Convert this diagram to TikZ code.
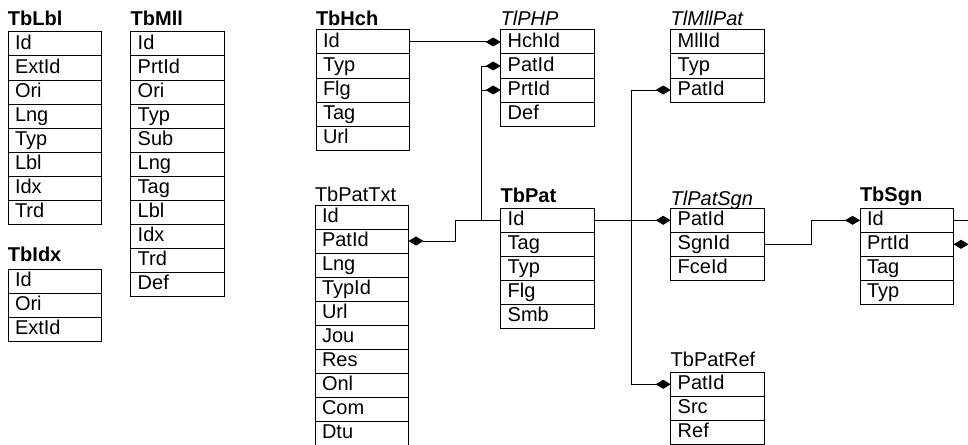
\documentclass[tikz,border=0pt]{standalone}
\usepackage{fontspec}
\setmainfont{Liberation Sans}
\usetikzlibrary{arrows.meta}
\newcommand{\dbtab}[7]{%
  \node[ttl,#5] (#1-t) at (#2,#4) {#6};
  \foreach \r [count=\i from 0] in {#7} {\node[rowbox] (#1-\i) at (#2,#3+24*\i) {\r};}
}
\tikzset{
  rowbox/.style={draw=black, line width=1pt, anchor=north west, inner xsep=7pt, inner ysep=0pt,
    outer sep=0pt, text width=79.5pt, align=left, text height=17.5pt, text depth=6.5pt,
    font=\fontsize{20}{24}\selectfont},
  ttl/.style={anchor=base west, inner sep=0pt, outer sep=0pt},
  tbold/.style={font=\fontsize{20}{24}\selectfont\bfseries},
  tital/.style={font=\fontsize{20}{24}\selectfont\itshape},
  tplain/.style={font=\fontsize{20}{24}\selectfont},
  rel/.style={draw=black, line width=1pt, -{Diamond[length=15pt,width=9pt]}},
  lnk/.style={draw=black, line width=1pt}
}
\begin{document}
\begin{tikzpicture}[x=1pt,y=-1pt]
\useasboundingbox (0,0) rectangle (968,444);
\clip (0,0) rectangle (968,444);
\fill[white] (0,0) rectangle (968,444);
% tables
\dbtab{lbl}{8}{32}{25.3}{tbold}{TbLbl}{Id,ExtId,Ori,Lng,Typ,Lbl,Idx,Trd}
\dbtab{mll}{130.7}{32}{25.3}{tbold}{TbMll}{Id,PrtId,Ori,Typ,Sub,Lng,Tag,Lbl,Idx,Trd,Def}
\dbtab{idx}{8}{269.3}{261.7}{tbold}{TbIdx}{Id,Ori,ExtId}
\dbtab{hch}{316}{30}{25.7}{tbold}{TbHch}{Id,Typ,Flg,Tag,Url}
\dbtab{php}{500.7}{30}{25.5}{tital}{TlPHP}{HchId,PatId,PrtId,Def}
\dbtab{tmp}{670.7}{30}{25.5}{tital}{TlMllPat}{MllId,Typ,PatId}
\dbtab{ptx}{315}{205}{201.7}{tplain}{TbPatTxt}{Id,PatId,Lng,TypId,Url,Jou,Res,Onl,Com,Dtu}
\dbtab{pat}{500.7}{208.3}{202.7}{tbold}{TbPat}{Id,Tag,Typ,Flg,Smb}
\dbtab{tps}{670.7}{208.3}{205}{tital}{TlPatSgn}{PatId,SgnId,FceId}
\dbtab{sgn}{860}{208.3}{201.7}{tbold}{TbSgn}{Id,PrtId,Tag,Typ}
\dbtab{ref}{670.7}{372.3}{366.7}{tplain}{TbPatRef}{PatId,Src,Ref}
% routing columns
\coordinate (c1) at (455,0);
\coordinate (c2) at (481.7,0);
\coordinate (c3) at (631.7,0);
\coordinate (c4) at (811,0);
\coordinate (e1) at (990,220.3);
\coordinate (e2) at (990,244.3);
% connectors
\draw[rel] (hch-0.east) -- (php-0.west);
\draw[rel] (pat-0.west) -- (pat-0.west -| c1) |- (ptx-1.east);
\draw[rel] (pat-0.west -| c2) |- (php-1.west);
\draw[rel] (pat-0.west -| c2) |- (php-2.west);
\draw[rel] (pat-0.east) -- (tps-0.west);
\draw[rel] (pat-0.east -| c3) |- (tmp-2.west);
\draw[rel] (pat-0.east -| c3) |- (ref-0.west);
\draw[rel] (tps-1.east) -- (tps-1.east -| c4) |- (sgn-0.west);
\draw[lnk] (sgn-0.east) -- (e1);
\draw[rel] (e2) -- (sgn-1.east);
\end{tikzpicture}
\end{document}
